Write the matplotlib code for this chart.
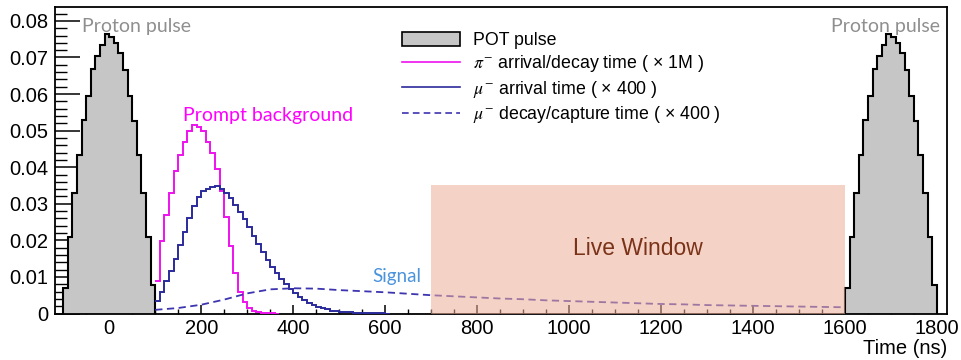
import numpy as np
import matplotlib
matplotlib.use("Agg")
import matplotlib.pyplot as plt
from matplotlib.patches import Patch, Rectangle
from matplotlib.lines import Line2D
from matplotlib.ticker import MultipleLocator

# --- data ---
bin_width = 10  # ns

# proton pulse (POT), 10 ns bins starting at -100 ns; same shape repeats at 1600 ns
pulse_start = [-100, 1600]
pulse_values = [0.0070, 0.0210, 0.0330, 0.0432, 0.0530, 0.0595, 0.0668, 0.0703,
                0.0735, 0.0763, 0.0755, 0.0740, 0.0713, 0.0665, 0.0595, 0.0525,
                0.0433, 0.0330, 0.0208, 0.0077]

# pi- arrival/decay time, bins from 100 ns
pion_start = 100
pion_values = [0.0088, 0.0197, 0.0268, 0.0330, 0.0390, 0.0433, 0.0470, 0.0498,
               0.0515, 0.0510, 0.0498, 0.0470, 0.0440, 0.0395, 0.0335, 0.0265,
               0.0185, 0.0110, 0.0058, 0.0032, 0.0016, 0.0008, 0.0004, 0.0002,
               0.0001, 0.00005, 0.0]

# mu- arrival time, bins from 100 ns
muon_start = 100
muon_values = [0.0033, 0.0060, 0.0088, 0.0115, 0.0150, 0.0186, 0.0224, 0.0260,
               0.0293, 0.0318, 0.0334, 0.0340, 0.0346, 0.0348, 0.0340, 0.0330,
               0.0315, 0.0296, 0.0277, 0.0258, 0.0236, 0.0213, 0.0190, 0.0168,
               0.0147, 0.0127, 0.0110, 0.0094, 0.0080, 0.0067, 0.0055, 0.0045,
               0.0036, 0.0029, 0.0023, 0.0018, 0.0014, 0.0011, 0.0008, 0.0006,
               0.0005, 0.0004, 0.0003, 0.00025, 0.0002, 0.00015, 0.0001, 0.0001,
               0.00005, 0.00005, 0.0]

# mu- decay/capture time
decay_t = [100, 150, 200, 250, 300, 350, 400, 450, 500, 550, 600, 650, 700, 750,
           800, 850, 900, 950, 1000, 1050, 1100, 1150, 1200, 1250, 1300, 1350,
           1400, 1450, 1500, 1550, 1600]
decay_values = [0.0010, 0.0015, 0.0024, 0.0038, 0.0055, 0.0066, 0.0069, 0.0068,
                0.0064, 0.0061, 0.0058, 0.0054, 0.0050, 0.0047, 0.0044, 0.0041,
                0.0039, 0.0036, 0.0034, 0.0032, 0.0030, 0.0028, 0.0026, 0.0025,
                0.0023, 0.0022, 0.0021, 0.0020, 0.0019, 0.0018, 0.0017]

live_window = (700, 1600, 0.035)

labels = ["POT pulse",
          r"$\pi^{-}$ arrival/decay time ( × 1M )",
          r"$\mu^{-}$ arrival time ( × 400 )",
          r"$\mu^{-}$ decay/capture time ( × 400 )"]

# --- style ---
plt.rcParams["font.family"] = ["Liberation Sans", "DejaVu Sans"]
plt.rcParams["mathtext.fontset"] = "stix"

GRAY = "#c6c6c6"
MAGENTA = "#ee11ee"
BLUE = "#2b2a9c"
DASH_BLUE = "#3d34b0"

fig = plt.figure(figsize=(9.62, 3.6), dpi=100)
ax = fig.add_axes([55 / 962, 1 - 313.5 / 360, 892 / 962, 306.5 / 360])


def edges(start, n):
    return start + bin_width * np.arange(n + 1)


n = len(pulse_values)
for s in pulse_start:
    ax.stairs(pulse_values, edges(s, n), fill=True, color=GRAY, zorder=2)
    ax.stairs(pulse_values, edges(s, n), baseline=0, color="black", lw=1.5, zorder=3)

ax.stairs(pion_values, edges(pion_start, len(pion_values)), baseline=None,
          color=MAGENTA, lw=1.4, zorder=4)
ax.stairs(muon_values, edges(muon_start, len(muon_values)), baseline=None,
          color=BLUE, lw=1.4, zorder=4)
ax.plot(decay_t, decay_values, color=DASH_BLUE, lw=1.3,
        ls=(0, (4, 2.5)), zorder=4)

x0, x1, top = live_window
ax.add_patch(Rectangle((x0, 0), x1 - x0, top, facecolor="#eeae97",
                       edgecolor="none", alpha=0.55, zorder=5))
ax.text((x0 + x1) / 2, 0.0179, "Live Window", color="#7a3318",
        fontsize=16.5, ha="center", va="center", zorder=6)

ann_font = ["Lato", "DejaVu Sans"]
ax.text(-60, 0.0785, "Proton pulse", color="#8f8f8f", fontsize=14,
        family=ann_font, ha="left", va="center")
ax.text(1569, 0.0785, "Proton pulse", color="#8f8f8f", fontsize=14,
        family=ann_font, ha="left", va="center")
ax.text(160, 0.0541, "Prompt background", color="#ff00ff", fontsize=14,
        family=ann_font, ha="left", va="center")
ax.text(572, 0.0100, "Signal", color="#4a93dd", fontsize=13.5,
        family=ann_font, ha="left", va="center")

ax.set_xlim(-118, 1822)
ax.set_ylim(0, 0.0838)
ax.xaxis.set_major_locator(MultipleLocator(200))
ax.xaxis.set_minor_locator(MultipleLocator(50))
ax.yaxis.set_major_locator(MultipleLocator(0.01))
ax.yaxis.set_minor_locator(MultipleLocator(0.002))
ax.yaxis.set_major_formatter(plt.FuncFormatter(lambda v, p: "0" if v == 0 else f"{v:.2f}"))

ax.tick_params(axis="both", which="both", direction="in", top=False, right=False,
               labelsize=14.5, color="black")
ax.tick_params(axis="y", which="major", length=18, width=1.1, pad=5)
ax.tick_params(axis="y", which="minor", length=8.5, width=1.0)
ax.tick_params(axis="x", which="major", length=6.5, width=1.1, pad=4)
ax.tick_params(axis="x", which="minor", length=3.5, width=1.0)
for sp in ax.spines.values():
    sp.set_linewidth(1.3)

ax.set_xlabel("Time (ns)", fontsize=14.5, loc="right", labelpad=1)

handles = [Patch(facecolor=GRAY, edgecolor="black", lw=1.2),
           Line2D([], [], color=MAGENTA, lw=1.2),
           Line2D([], [], color=BLUE, lw=1.2),
           Line2D([], [], color=DASH_BLUE, lw=1.2, ls=(0, (4, 2.5)))]
ax.legend(handles, labels, loc="upper left", bbox_to_anchor=(402 / 962, 1 - 32 / 360),
          bbox_transform=fig.transFigure, frameon=False, fontsize=12.8,
          borderpad=0, borderaxespad=0, handlelength=3.25, handletextpad=0.75,
          labelspacing=0.25, handleheight=0.8)

fig.savefig("out.png", dpi=100, facecolor="white")
